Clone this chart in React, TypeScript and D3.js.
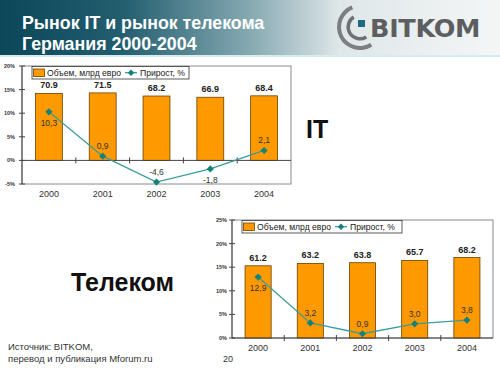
import React from 'react';
import * as d3 from 'd3';

const years = ['2000', '2001', '2002', '2003', '2004'];

// IT market: volume (bn euro) and growth (%)
const itVolume = [70.9, 71.5, 68.2, 66.9, 68.4];
const itGrowth = [10.3, 0.9, -4.6, -1.8, 2.1];
const itTicks = [-5, 0, 5, 10, 15, 20];

// Telecom market
const telVolume = [61.2, 63.2, 63.8, 65.7, 68.2];
const telGrowth = [12.9, 3.2, 0.9, 3.0, 3.8];
const telTicks = [0, 5, 10, 15, 20, 25];

const legendBars = 'Объем, млрд  евро';
const legendLine = 'Прирост, %';

const FONT = '"Liberation Sans", Arial, sans-serif';
const ORANGE = '#ff9900';
const TEAL_LINE = '#3a9c9c';
const TEAL_MARK = '#16807a';

const fmt = (v: number) => v.toFixed(1).replace('.', ',');

type ChartProps = {
  box: { x0: number; x1: number; y0: number; y1: number };
  pctDomain: [number, number];
  volDomain: [number, number];
  ticks: number[];
  volume: number[];
  growth: number[];
  below: boolean[];
  legendW: number;
  tickLabelGap: number;
};

const Chart = ({ box, pctDomain, volDomain, ticks, volume, growth, below, legendW, tickLabelGap }: ChartProps) => {
  const x = d3.scaleBand<string>().domain(years).range([box.x0, box.x1]).paddingInner(0).paddingOuter(0);
  const yPct = d3.scaleLinear().domain(pctDomain).range([box.y1, box.y0]);
  const yVol = d3.scaleLinear().domain(volDomain).range([box.y1, box.y0]);
  const bw = x.bandwidth() * 0.5;
  const cx = (d: string) => (x(d) as number) + x.bandwidth() / 2;
  const zeroY = yPct(0);

  const line = d3.line<number>()
    .x((_, i) => cx(years[i]))
    .y(d => yPct(d));

  const lx = box.x0 + 10;
  const ly = box.y0 + 0.5;
  const sx = lx + 93; // line sample start in legend

  return (
    <g fontFamily={FONT}>
      {/* plot frame */}
      <rect x={box.x0} y={box.y0} width={box.x1 - box.x0} height={box.y1 - box.y0}
        fill="none" stroke="#8a8a8a" strokeWidth={1} />

      {/* bars */}
      {volume.map((v, i) => (
        <g key={'b' + i}>
          <rect x={cx(years[i]) - bw / 2} y={yVol(v)} width={bw} height={yVol(0) - yVol(v)}
            fill={ORANGE} stroke="#6b4200" strokeWidth={0.8} />
          <text x={cx(years[i])} y={yVol(v) - 5} textAnchor="middle" fontSize={9}
            fontWeight="bold" fill="#222">{v.toFixed(1)}</text>
        </g>
      ))}

      {/* y axis */}
      <line x1={box.x0} x2={box.x0} y1={box.y0} y2={box.y1} stroke="#444" strokeWidth={1} />
      {ticks.map(t => (
        <g key={'t' + t}>
          <line x1={box.x0 - 3} x2={box.x0 + 3} y1={yPct(t)} y2={yPct(t)} stroke="#444" />
          <text x={box.x0 - tickLabelGap} y={yPct(t) + 2} textAnchor="end" fontSize={5.5}
            fontWeight="bold" fill="#333">{t}%</text>
        </g>
      ))}

      {/* x axis on zero */}
      <line x1={box.x0} x2={box.x1} y1={zeroY} y2={zeroY} stroke="#444" strokeWidth={1} />
      {years.slice(1).map(d => (
        <line key={'xt' + d} x1={x(d)} x2={x(d)} y1={zeroY - 3} y2={zeroY + 3} stroke="#444" />
      ))}
      {years.map(d => (
        <text key={'xl' + d} x={cx(d)} y={box.y1 + 13} textAnchor="middle" fontSize={9} fill="#333">{d}</text>
      ))}

      {/* growth line */}
      <path d={line(growth) || ''} fill="none" stroke={TEAL_LINE} strokeWidth={1.3} />
      {growth.map((g, i) => {
        const px = cx(years[i]);
        const py = yPct(g);
        return (
          <g key={'m' + i}>
            <path d={`M${px},${py - 3.6}L${px + 3.6},${py}L${px},${py + 3.6}L${px - 3.6},${py}Z`} fill={TEAL_MARK} />
            <text x={px} y={below[i] ? py + 14 : py - 7} textAnchor="middle" fontSize={8.5} fill="#333">{fmt(g)}</text>
          </g>
        );
      })}

      {/* legend */}
      <rect x={lx} y={ly} width={legendW} height={12.5} fill="#fff" stroke="#333" strokeWidth={0.8} />
      <rect x={lx + 1.5} y={ly + 2.5} width={11} height={7.5} fill={ORANGE} stroke="#6b4200" strokeWidth={0.8} />
      <text x={lx + 15} y={ly + 9.5} fontSize={8.6} fill="#222">{legendBars}</text>
      <line x1={sx} x2={sx + 12} y1={ly + 6.2} y2={ly + 6.2} stroke={TEAL_LINE} strokeWidth={1.3} />
      <path d={`M${sx + 6},${ly + 3}l3.2,3.2l-3.2,3.2l-3.2,-3.2Z`} fill={TEAL_MARK} />
      <text x={sx + 15} y={ly + 9.5} fontSize={8.6} fill="#222">{legendLine}</text>
    </g>
  );
};

const Logo = () => {
  const arc = d3.arc();
  const outer = arc({ innerRadius: 19, outerRadius: 23, startAngle: -Math.PI * 0.12, endAngle: -Math.PI * 1.18 }) || '';
  const inner = arc({ innerRadius: 10, outerRadius: 13.5, startAngle: -Math.PI * 0.18, endAngle: -Math.PI * 1.18 }) || '';
  return (
    <g>
      <g transform="translate(360,27)">
        <path d={outer} fill="#7c7e80" />
        <path d={inner} fill="#6e7072" />
      </g>
      <rect x={358} y={20} width={7} height={7} fill="#1d6a80" />
      <text x={370} y={37} fontFamily='"DejaVu Sans", sans-serif' fontWeight="bold" fontSize={25.5}
        fill="#5c5e60" letterSpacing={-0.3}>BITKOM</text>
    </g>
  );
};

export default function App() {
  return (
    <svg width={500} height={375} style={{ position: 'absolute', left: 0, top: 0, background: '#fff' }}
      fontFamily={FONT}>
      <defs>
        <linearGradient id="hdr" x1="0" x2="1" y1="0" y2="0">
          <stop offset="0" stopColor="#0b4659" />
          <stop offset="0.25" stopColor="#245f70" />
          <stop offset="0.5" stopColor="#86a9b2" />
          <stop offset="0.68" stopColor="#dfe7e9" />
          <stop offset="1" stopColor="#f4f6f6" />
        </linearGradient>
      </defs>
      <rect x={0} y={0} width={500} height={55} fill="url(#hdr)" />
      <rect x={0} y={55} width={500} height={2} fill="#d5ecf1" />
      <text x={22} y={29} fontSize={17.8} fontWeight="bold" fill="#fff">Рынок IT и рынок телекома</text>
      <text x={22} y={50} fontSize={17.8} fontWeight="bold" fill="#fff">Германия 2000-2004</text>
      <Logo />

      <Chart box={{ x0: 22, x1: 291, y0: 66, y1: 184 }} pctDomain={[-5, 20]} volDomain={[-25, 100]}
        ticks={itTicks} volume={itVolume} growth={itGrowth}
        below={[true, false, false, true, false]} legendW={157} tickLabelGap={7} />

      <Chart box={{ x0: 232, x1: 493, y0: 220, y1: 338 }} pctDomain={[0, 25]} volDomain={[0, 100]}
        ticks={telTicks} volume={telVolume} growth={telGrowth}
        below={[true, false, false, false, false]} legendW={160} tickLabelGap={5} />

      <text x={306} y={138} fontSize={25} fontWeight="bold" fill="#111">IT</text>
      <text x={71} y={291} fontSize={25} fontWeight="bold" fill="#111">Телеком</text>

      <text x={8} y={350} fontSize={9.5} fill="#333">Источник: BITKOM,</text>
      <text x={8} y={362} fontSize={9.5} fill="#333">перевод и публикация Mforum.ru</text>
      <text x={223} y={362} fontSize={9} fill="#333">20</text>
    </svg>
  );
}
